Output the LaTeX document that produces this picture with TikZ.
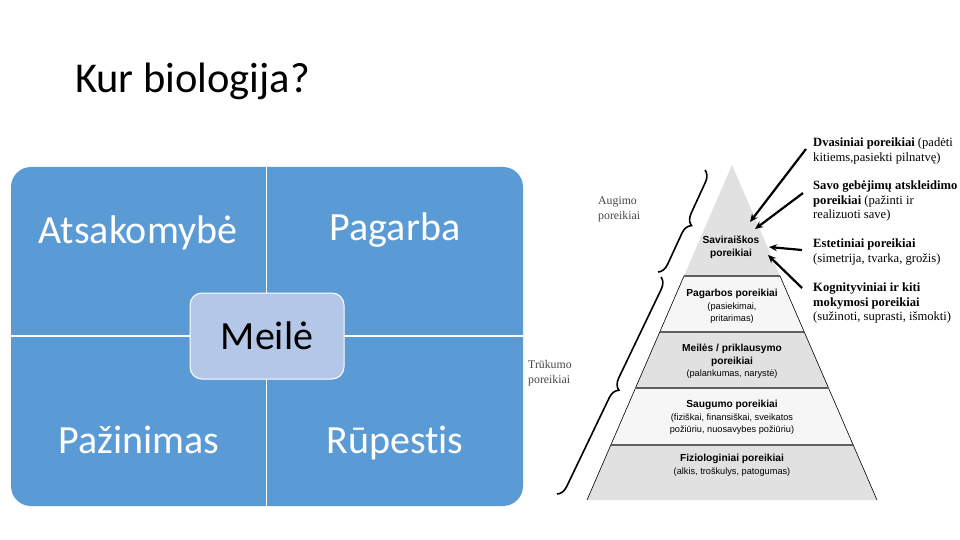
\documentclass[tikz,border=0pt]{standalone}
\usepackage{fontspec}
\setmainfont{Carlito}[Ligatures=NoCommon]
\newfontfamily\pyrsans{Liberation Sans}
\newfontfamily\noteserif{Liberation Serif}
\usetikzlibrary{arrows.meta, decorations.pathreplacing, positioning}
\definecolor{QuadBlue}{RGB}{91,155,213}
\definecolor{CoreBlue}{RGB}{180,199,231}
\definecolor{LayerGray}{RGB}{225,225,225}
\definecolor{LayerLight}{RGB}{246,246,246}
\definecolor{EdgeGray}{RGB}{95,95,95}
\definecolor{NoteGray}{RGB}{70,70,70}

\tikzset{
  quadlabel/.style={anchor=base, text=white, inner sep=0pt, font=\fontsize{40}{48}\selectfont},
  corebox/.style={fill=CoreBlue, draw=white, line width=1pt, rounded corners=12pt,
        minimum width=154pt, minimum height=86pt, font=\fontsize{40}{48}\selectfont},
  layerlabel/.style={align=center, anchor=north, inner sep=0pt, font=\pyrsans\fontsize{9.2}{12.5}\selectfont},
  needlabel/.style={align=left, anchor=north west, inner sep=0pt, font=\noteserif\fontsize{12.6}{14.5}\selectfont},
  bracelabel/.style={align=left, anchor=north west, inner sep=0pt, text=NoteGray, font=\noteserif\fontsize{11.8}{15}\selectfont},
  needarrow/.style={line width=2.2pt, -{Stealth[length=8pt, width=7pt]}},
  needbrace/.style={decorate, decoration={brace, amplitude=11pt}, line width=1.6pt},
  layeredge/.style={draw=EdgeGray, line width=1.6pt},
}
\newcommand{\lt}[1]{{\fontsize{10.2}{12.5}\selectfont\textbf{#1}}}

\begin{document}
\begin{tikzpicture}[x=1pt, y=-1pt]
  \fill[white] (0,0) rectangle (960,540);
  \useasboundingbox (0,0) rectangle (960,540);

  % title
  \node[anchor=base west, inner sep=0pt, font=\fontsize{42.5}{48}\selectfont] (title) at (75,93) {Kur biologija?};

  % left panel: four quadrants
  \fill[QuadBlue, rounded corners=20pt] (11,167) rectangle (523,506);
  \draw[white, line width=1.2pt] (266.5,167) -- (266.5,506);
  \draw[white, line width=1.2pt] (11,336) -- (523,336);

  \node[quadlabel] (atsak) at (138,243) {Atsakomybė};
  \node[quadlabel] (pagarba) at (395,240) {Pagarba};
  \node[quadlabel] (pazin) at (139,453) {Pažinimas};
  \node[quadlabel] (rupest) at (395,453) {Rūpestis};
  \node[corebox] (meile) at (267,336) {Meilė};

  % pyramid
  \fill[LayerGray] (732,165) -- (684,276) -- (780,276) -- cycle;
  \fill[LayerLight] (684,276) -- (780,276) -- (804.3,332) -- (659.7,332) -- cycle;
  \fill[LayerGray] (659.7,332) -- (804.3,332) -- (828.6,388) -- (635.4,388) -- cycle;
  \fill[LayerLight] (635.4,388) -- (828.6,388) -- (853.2,445) -- (610.8,445) -- cycle;
  \fill[LayerGray] (610.8,445) -- (853.2,445) -- (877,500) -- (587,500) -- cycle;
  \draw[line width=0.6pt] (684,276) -- (587,500);
  \draw[line width=0.6pt] (780,276) -- (877,500);
  \draw[layeredge] (684,276) -- (780,276);
  \draw[layeredge] (659.7,332) -- (804.3,332);
  \draw[layeredge] (635.4,388) -- (828.6,388);
  \draw[layeredge] (610.8,445) -- (853.2,445);

  \node[layerlabel] (savir) at (731,236) {\lt{Saviraiškos}\\\lt{poreikiai}};
  \node[layerlabel] (pagarbos) at (732,289) {\lt{Pagarbos poreikiai}\\(pasiekimai,\\pritarimas)};
  \node[layerlabel] (meiles) at (732,344) {\lt{Meilės / priklausymo}\\\lt{poreikiai}\\(palankumas, narystė)};
  \node[layerlabel] (saugumo) at (732,400) {\lt{Saugumo poreikiai}\\(fiziškai, finansiškai, sveikatos\\požiūriu, nuosavybes požiūriu)};
  \node[layerlabel] (fiziol) at (732,454) {\lt{Fiziologiniai poreikiai}\\(alkis, troškulys, patogumas)};

  % braces
  \coordinate (augbot) at (658,272);
  \coordinate (augtop) at (705,170);
  \coordinate (trubot) at (557,494);
  \coordinate (trutop) at (661,277);
  \draw[needbrace] (augtop) -- (augbot);
  \draw[needbrace] (trutop) -- (trubot);
  \node[bracelabel] (augimo) at (598,196) {Augimo\\poreikiai};
  \node[bracelabel] (trukumo) at (528,360) {Trūkumo\\poreikiai};

  % needs on the right
  \node[needlabel] (dvas) at (813,138) {\textbf{Dvasiniai poreikiai} (padėti\\kitiems,pasiekti pilnatvę)};
  \node[needlabel] (savo) at (813,181) {\textbf{Savo gebėjimų atskleidimo}\\\textbf{poreikiai} (pažinti ir\\realizuoti save)};
  \node[needlabel] (estet) at (813,239) {\textbf{Estetiniai poreikiai}\\(simetrija, tvarka, grožis)};
  \node[needlabel] (kogn) at (813,283) {\textbf{Kognityviniai ir kiti}\\\textbf{mokymosi poreikiai}\\(sužinoti, suprasti, išmokti)};

  \coordinate (from1) at (806,149);
  \coordinate (from2) at (803,193);
  \coordinate (from3) at (802,250);
  \coordinate (from4) at (802,288);
  \coordinate (to1) at (750,222);
  \coordinate (to2) at (755,229);
  \coordinate (to3) at (769,247);
  \coordinate (to4) at (768,255);
  \draw[needarrow] (from1) -- (to1);
  \draw[needarrow] (from2) -- (to2);
  \draw[needarrow] (from3) -- (to3);
  \draw[needarrow] (from4) -- (to4);
\end{tikzpicture}
\end{document}
